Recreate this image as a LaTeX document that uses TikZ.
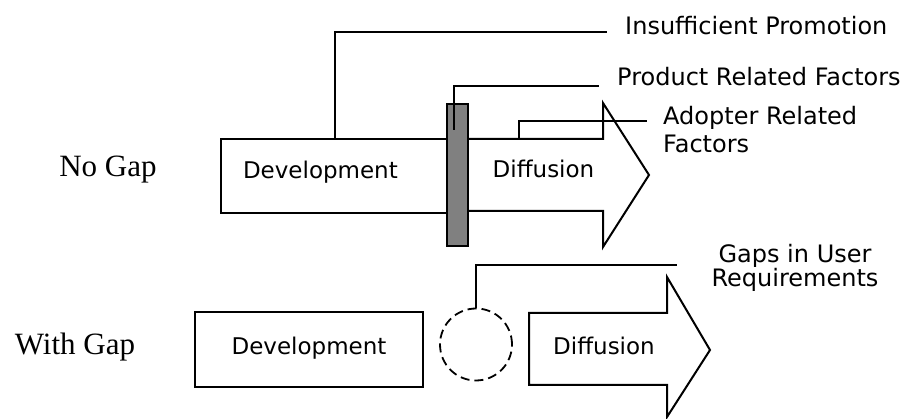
\documentclass[tikz,border=0pt]{standalone}
\usepackage{fontspec}
\setmainfont{Liberation Serif}
\newfontfamily\gothic{DejaVu Sans}
\usetikzlibrary{positioning,calc}

\begin{document}
\begin{tikzpicture}[x=1pt,y=-1pt,
  txt/.style={font=\gothic\fontsize{23}{26}\selectfont,text height=13pt,text depth=7pt},
  box/.style={rectangle,draw,line width=2pt,minimum height=74pt,txt},
  arrowbody/.style={draw,line width=2pt,fill=white},
  lead/.style={draw,line width=1.2pt},
  note/.style={anchor=base west,inner sep=0pt,align=left,font=\gothic\fontsize{24}{28}\selectfont},
  rowlabel/.style={font=\fontsize{31}{34}\selectfont,inner sep=0pt}]
\useasboundingbox (0,0) rectangle (905,419);
% row labels
\node[rowlabel] (nogap) at (108,170) {No Gap};
\node[rowlabel] (withgap) at (75,347) {With Gap};
% no gap row
\node[box,anchor=north west,text width=184pt,inner xsep=22pt,align=left] (dev1) at (220,138) {Development};
\draw[arrowbody] (458,139) -- (603,139) -- (603,103) -- (649,175) -- (603,247) -- (603,211) -- (458,211);
\node[txt] (dif1) at (543.5,175) {Diffusion};
\node[rectangle,draw,line width=1.5pt,fill=gray,minimum width=21pt,minimum height=142pt,inner sep=0pt] (bar) at (457.5,175) {};
% factors of the no gap row
\node[note] (promo) at (625,35) {Insufficient Promotion};
\node[note] (product) at (617,86) {Product Related Factors};
\node[note] (adopter) at (663,153) {Adopter Related\\Factors};
\coordinate (promoend) at (607,32);
\coordinate (productend) at (599,86);
\coordinate (adopterend) at (647,121);
\coordinate (adopterfoot) at (519,139);
\draw[lead] (dev1.north -| 335,0) |- (promoend);
\draw[lead] (454,130) |- (productend);
\draw[lead] (adopterfoot) |- (adopterend);
% with gap row
\node[box,minimum width=228pt,minimum height=75pt,text height=19pt,text depth=8pt] (dev2) at (309,349.5) {Development};
\node[circle,draw,dash pattern=on 9pt off 5pt,line width=1.8pt,minimum size=72pt,inner sep=0pt] (gap) at (476,344.5) {};
\draw[arrowbody] (529,313) -- (667,313) -- (667,277) -- (710,350) -- (667,417) -- (667,385) -- (529,385) -- cycle;
\node[txt] (dif2) at (604,352) {Diffusion};
\node[note,anchor=base,align=center,font=\gothic\fontsize{24}{21}\selectfont] (gapnote) at (795,287) {Gaps in User\\Requirements};
\coordinate (gapend) at (677,265);
\draw[lead] (gap.north) |- (gapend);
\end{tikzpicture}
\end{document}
